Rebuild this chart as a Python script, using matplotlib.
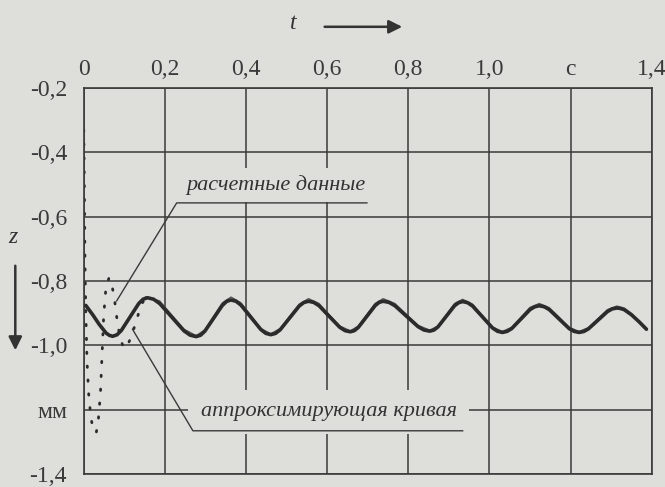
import numpy as np
import matplotlib
matplotlib.use('Agg')
import matplotlib.pyplot as plt

matplotlib.rc('font', family='Liberation Serif', size=17)

# time axis ticks (s) and depth axis ticks (mm)
t_ticks = [0.0, 0.2, 0.4, 0.6, 0.8, 1.0, 1.2, 1.4]
t_labels = ['0', '0,2', '0,4', '0,6', '0,8', '1,0', 'c', '1,4']
z_ticks = [-0.2, -0.4, -0.6, -0.8, -1.0, -1.2, -1.4]
z_labels = ['-0,2', '-0,4', '-0,6', '-0,8', '-1,0', 'мм', '-1,4']

# approximating curve
approx_t = [0.005, 0.022, 0.038, 0.055, 0.063,
            0.071, 0.0818, 0.0925, 0.114, 0.1355, 0.1463,
            0.157, 0.172, 0.187, 0.217, 0.247, 0.262,
            0.277, 0.2878, 0.2985, 0.320, 0.3415, 0.3523,
            0.363, 0.3753, 0.3875, 0.412, 0.4365, 0.4488,
            0.461, 0.4726, 0.484, 0.5075, 0.531, 0.5424,
            0.554, 0.5669, 0.580, 0.6055, 0.631, 0.6441,
            0.657, 0.6671, 0.677, 0.6975, 0.718, 0.7279,
            0.738, 0.7524, 0.767, 0.7955, 0.824, 0.8386,
            0.853, 0.8631, 0.873, 0.8935, 0.914, 0.9239,
            0.934, 0.9463, 0.9585, 0.983, 1.0075, 1.0198,
            1.032, 1.0434, 1.055, 1.0775, 1.100, 1.1116,
            1.123, 1.1353, 1.1475, 1.172, 1.1965, 1.2088,
            1.221, 1.2326, 1.244, 1.2675, 1.291, 1.3024,
            1.314, 1.323, 1.332, 1.350, 1.369, 1.387]
approx_z = [-0.876, -0.905, -0.935, -0.962, -0.969,
            -0.972, -0.9674, -0.954, -0.912, -0.870, -0.8566,
            -0.852, -0.8566, -0.870, -0.9125, -0.955, -0.9684,
            -0.973, -0.9687, -0.956, -0.916, -0.876, -0.8633,
            -0.859, -0.8631, -0.875, -0.913, -0.951, -0.9629,
            -0.967, -0.9630, -0.952, -0.915, -0.878, -0.8670,
            -0.863, -0.8666, -0.877, -0.9105, -0.944, -0.9544,
            -0.958, -0.9544, -0.944, -0.9105, -0.877, -0.8666,
            -0.863, -0.8665, -0.877, -0.9095, -0.942, -0.9525,
            -0.956, -0.9525, -0.943, -0.910, -0.877, -0.8675,
            -0.864, -0.8676, -0.878, -0.912, -0.946, -0.9564,
            -0.960, -0.9568, -0.948, -0.9185, -0.889, -0.8802,
            -0.877, -0.8802, -0.889, -0.9185, -0.948, -0.9568,
            -0.960, -0.9571, -0.949, -0.922, -0.895, -0.8869,
            -0.884, -0.8855, -0.889, -0.905, -0.927, -0.950]

# computed data (dotted at start, then close to the approximation)
calc_t = [0.000, 0.001, 0.002, 0.003, 0.005, 0.008, 0.012, 0.017, 0.024,
          0.031, 0.036, 0.041, 0.045, 0.049, 0.054, 0.062, 0.069, 0.076,
          0.083, 0.090, 0.099, 0.108, 0.118, 0.128, 0.140, 0.152,
          0.187, 0.217, 0.247, 0.277, 0.2985, 0.320, 0.3415, 0.363,
          0.3875, 0.412, 0.4365, 0.461, 0.484, 0.5075, 0.531, 0.554,
          0.580, 0.6055, 0.631, 0.657, 0.677, 0.6975, 0.718, 0.738,
          0.767, 0.7955, 0.824, 0.853, 0.873, 0.8935, 0.914, 0.934,
          0.9585, 0.983, 1.0075, 1.032, 1.055, 1.0775, 1.100, 1.123,
          1.1475, 1.172, 1.1965, 1.221, 1.244, 1.2675, 1.291, 1.314,
          1.332, 1.350, 1.369, 1.387]
calc_z = [-0.33, -0.45, -0.60, -0.75, -0.90, -1.05, -1.15, -1.22, -1.27,
          -1.27, -1.23, -1.15, -1.03, -0.91, -0.83, -0.79, -0.81, -0.86,
          -0.93, -0.98, -1.01, -1.00, -0.97, -0.93, -0.88, -0.850,
          -0.862, -0.906, -0.950, -0.970, -0.952, -0.910, -0.868, -0.850,
          -0.868, -0.908, -0.948, -0.964, -0.948, -0.910, -0.872, -0.855,
          -0.870, -0.906, -0.940, -0.955, -0.940, -0.905, -0.870, -0.855,
          -0.870, -0.904, -0.938, -0.953, -0.940, -0.905, -0.870, -0.857,
          -0.872, -0.908, -0.943, -0.957, -0.944, -0.913, -0.882, -0.870,
          -0.883, -0.913, -0.944, -0.957, -0.945, -0.917, -0.889, -0.878,
          -0.884, -0.901, -0.924, -0.947]
n_dotted = 26

bg = '#dededb'
ink = '#2b2b2b'
grid_c = '#3a3a3a'

fig = plt.figure(figsize=(6.65, 4.87), dpi=100, facecolor=bg)
ax = fig.add_axes([0.126, 0.027, 0.854, 0.792], facecolor=bg)

ax.set_xlim(0, 1.4)
ax.set_ylim(-1.4, -0.2)
ax.xaxis.tick_top()
ax.set_xticks(t_ticks)
ax.set_xticklabels(t_labels)
ax.set_yticks(z_ticks)
ax.set_yticklabels(z_labels)
ax.tick_params(length=0, colors=grid_c, labelsize=17)
ax.tick_params(axis='x', pad=6)
ax.tick_params(axis='y', pad=12)
ax.grid(color=grid_c, linewidth=1.1, zorder=0.5)
ax.set_axisbelow(True)
for s in ax.spines.values():
    s.set_color(grid_c)
    s.set_linewidth(1.2)

# curves
ax.plot(calc_t[:n_dotted], calc_z[:n_dotted], color=ink, linestyle=(0, (0.5, 4.5)),
        linewidth=2.0, dash_capstyle='round', zorder=2)
ax.plot(calc_t[n_dotted - 1:], calc_z[n_dotted - 1:], color='#555555',
        linewidth=1.0, zorder=2)
ax.plot(approx_t, approx_z, color=ink, linewidth=2.6, zorder=3,
        solid_joinstyle='round', solid_capstyle='round')

# annotations
ax.text(0.473, -0.502, 'расчетные данные', style='italic', fontsize=16,
        ha='center', va='center', color='#333333', zorder=4,
        bbox=dict(facecolor=bg, edgecolor='none', pad=5))
ax.plot([0.698, 0.229, 0.081], [-0.557, -0.557, -0.862], color=grid_c,
        linewidth=1.0, zorder=5)

ax.text(0.604, -1.207, 'аппроксимирующая кривая', style='italic', fontsize=16,
        ha='center', va='center', color='#333333', zorder=4,
        bbox=dict(facecolor=bg, edgecolor='none', pad=9))
ax.plot([0.12, 0.269, 0.934], [-0.95, -1.266, -1.266], color=grid_c,
        linewidth=1.0, zorder=5)

# axis names with arrows
fig.text(0.441, 0.951, 't', style='italic', fontsize=17, ha='center', va='center',
         color='#333333')
fig.patches.append(matplotlib.patches.FancyArrowPatch(
    (0.484, 0.945), (0.609, 0.945), transform=fig.transFigure,
    arrowstyle='-|>', mutation_scale=20, color='#333333', linewidth=1.8))
fig.text(0.02, 0.513, 'z', style='italic', fontsize=17, ha='center', va='center',
         color='#333333')
fig.patches.append(matplotlib.patches.FancyArrowPatch(
    (0.023, 0.46), (0.023, 0.275), transform=fig.transFigure,
    arrowstyle='-|>', mutation_scale=20, color='#333333', linewidth=1.8))

plt.savefig('out.png', dpi=100, facecolor=bg)
